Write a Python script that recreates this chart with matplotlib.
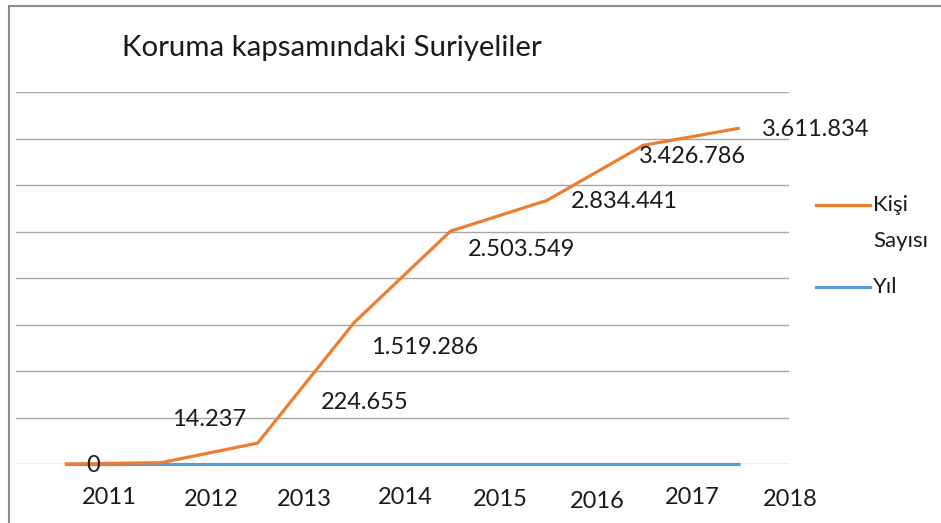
import matplotlib
matplotlib.use('Agg')
import matplotlib.pyplot as plt
from matplotlib.lines import Line2D

plt.rcParams['font.family'] = ['Lato', 'DejaVu Sans']

years = ['2011', '2012', '2013', '2014', '2015', '2016', '2017', '2018']
kisi_sayisi = [0, 14237, 224655, 1519286, 2503549, 2834441, 3426786, 3611834]
yil = [2011, 2012, 2013, 2014, 2015, 2016, 2017, 2018]

# label offsets in pixels (dx, dy), as placed in the original
label_offsets = [(28, -1), (48, 43), (107, 41), (71, -25), (71, -18), (77, -1), (49, -11), (76, -1)]
year_offsets = [(45, -33), (50, -36), (47, -36), (51, -33), (50, -36), (50, -38), (49, -33), (50, -36)]

ORANGE = "#ED7D31"
BLUE = "#5B9BD5"
W, H = 941, 523

fig = plt.figure(figsize=(W / 100, H / 100), dpi=100)
ax = fig.add_axes([16 / W, (H - 464) / H, (789 - 16) / W, (464 - 92) / H])

x = list(range(len(years)))
ax.plot(x, yil, color=BLUE, linewidth=2.3, solid_capstyle='butt', zorder=3, clip_on=False)
ax.plot(x, kisi_sayisi, color=ORANGE, linewidth=2.3, solid_capstyle='butt', zorder=4, clip_on=False)

for xi, v, (dx, dy) in zip(x, kisi_sayisi, label_offsets):
    txt = f"{v:,}".replace(",", ".")
    ax.annotate(txt, (xi, v), xytext=(dx, dy), textcoords='offset pixels',
                ha='center', va='center', fontsize=17, color='#1a1a1a', zorder=5)

for xi, lab, (dx, dy) in zip(x, years, year_offsets):
    ax.annotate(lab, (xi, 0), xytext=(dx, dy), textcoords='offset pixels',
                ha='center', va='center', fontsize=17, color='#1a1a1a',
                annotation_clip=False)

ax.set_xlim(-0.505, 7.51)
ax.set_ylim(0, 4000000)
ax.set_yticks(range(0, 4000001, 500000))
ax.grid(True, axis='y', color='#a6a6a6', linewidth=1)
ax.set_axisbelow(True)
ax.tick_params(left=False, bottom=False, labelleft=False, labelbottom=False)
for s in ax.spines.values():
    s.set_visible(False)

fig.text(122 / W, 1 - 48 / H, "Koruma kapsamındaki Suriyeliler", fontsize=21.2,
         ha='left', va='center', color='#1a1a1a')

# legend drawn by hand
fig.add_artist(Line2D([816 / W, 870 / W], [1 - 205 / H] * 2, color=ORANGE, linewidth=2.3))
fig.add_artist(Line2D([816 / W, 870 / W], [1 - 287 / H] * 2, color=BLUE, linewidth=2.3))
fig.text(873 / W, 1 - 205 / H, "Kişi", fontsize=16, ha='left', va='center', color='#1a1a1a')
fig.text(873 / W, 1 - 241 / H, "Sayısı", fontsize=16, ha='left', va='center', color='#1a1a1a')
fig.text(873 / W, 1 - 287 / H, "Yıl", fontsize=16, ha='left', va='center', color='#1a1a1a')

# outer frame (left and top edges visible)
fig.add_artist(Line2D([8.5 / W, 8.5 / W], [0, 1 - 6 / H], color='#8c8c8c', linewidth=1.5))
fig.add_artist(Line2D([8.5 / W, 1], [1 - 6 / H] * 2, color='#8c8c8c', linewidth=1.5))

fig.savefig("out.png", dpi=100)
